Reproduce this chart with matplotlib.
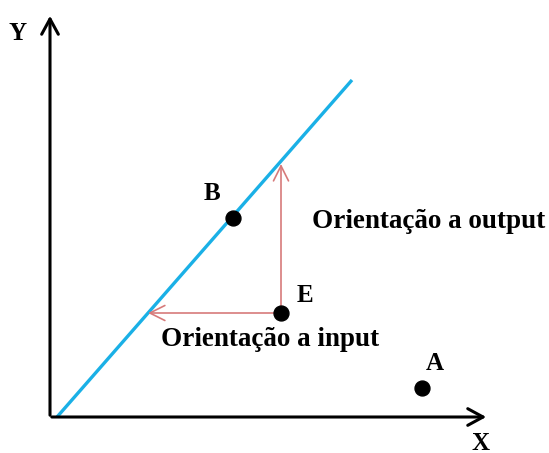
import matplotlib.pyplot as plt

# diagram coordinates (origin at the corner of the axes)
frontier_x = [7, 302]
frontier_y = [0, 337]
point_names = ['A', 'B', 'E']
point_x = [372, 183, 231]
point_y = [29, 199, 104]
label_x = [385, 162, 255]
label_y = [54, 224, 121]
# projections of E on the frontier
out_target = (231, 253)
in_target = (98, 104)
axis_len_x = 439
axis_len_y = 404

fig = plt.figure(figsize=(5.49, 4.53), dpi=100)
ax = fig.add_axes([0, 0, 1, 1])
ax.set_xlim(-50, 499)
ax.set_ylim(-36, 417)
ax.axis('off')

letter_font = {'family': 'Liberation Serif', 'weight': 'bold', 'size': 18}
label_font = {'family': 'Liberation Serif', 'weight': 'bold', 'size': 19.5}

# axes with open arrow heads
ax.annotate('', xy=(0, axis_len_y), xytext=(0, -1),
            arrowprops=dict(arrowstyle='->,head_length=0.55,head_width=0.3',
                            lw=2.2, color='black', mutation_scale=20))
ax.annotate('', xy=(axis_len_x, 0), xytext=(-1, 0),
            arrowprops=dict(arrowstyle='->,head_length=0.55,head_width=0.3',
                            lw=2.2, color='black', mutation_scale=20))
ax.text(-32, 384, 'Y', ha='center', va='center', fontdict=letter_font)
ax.text(431, -26, 'X', ha='center', va='center', fontdict=letter_font)

# frontier
ax.plot(frontier_x, frontier_y, color='#1ab0e6', lw=2.4, solid_capstyle='butt')

# orientation arrows
ex, ey = point_x[2], point_y[2]
arrow_kw = dict(arrowstyle='->,head_length=0.6,head_width=0.3',
                lw=1.2, color='#d77a7a', mutation_scale=18, shrinkA=0, shrinkB=0)
ax.annotate('', xy=out_target, xytext=(ex, ey), arrowprops=arrow_kw)
ax.annotate('', xy=in_target, xytext=(ex, ey), arrowprops=arrow_kw)

# points
ax.scatter(point_x, point_y, s=115, color='black', zorder=5)
for name, lx, ly in zip(point_names, label_x, label_y):
    ax.text(lx, ly, name, ha='center', va='center', fontdict=letter_font)

ax.text(379, 195, 'Orientação a output', ha='center', va='center', fontdict=label_font)
ax.text(220, 77, 'Orientação a input', ha='center', va='center', fontdict=label_font)

fig.savefig('out.png', dpi=100)
